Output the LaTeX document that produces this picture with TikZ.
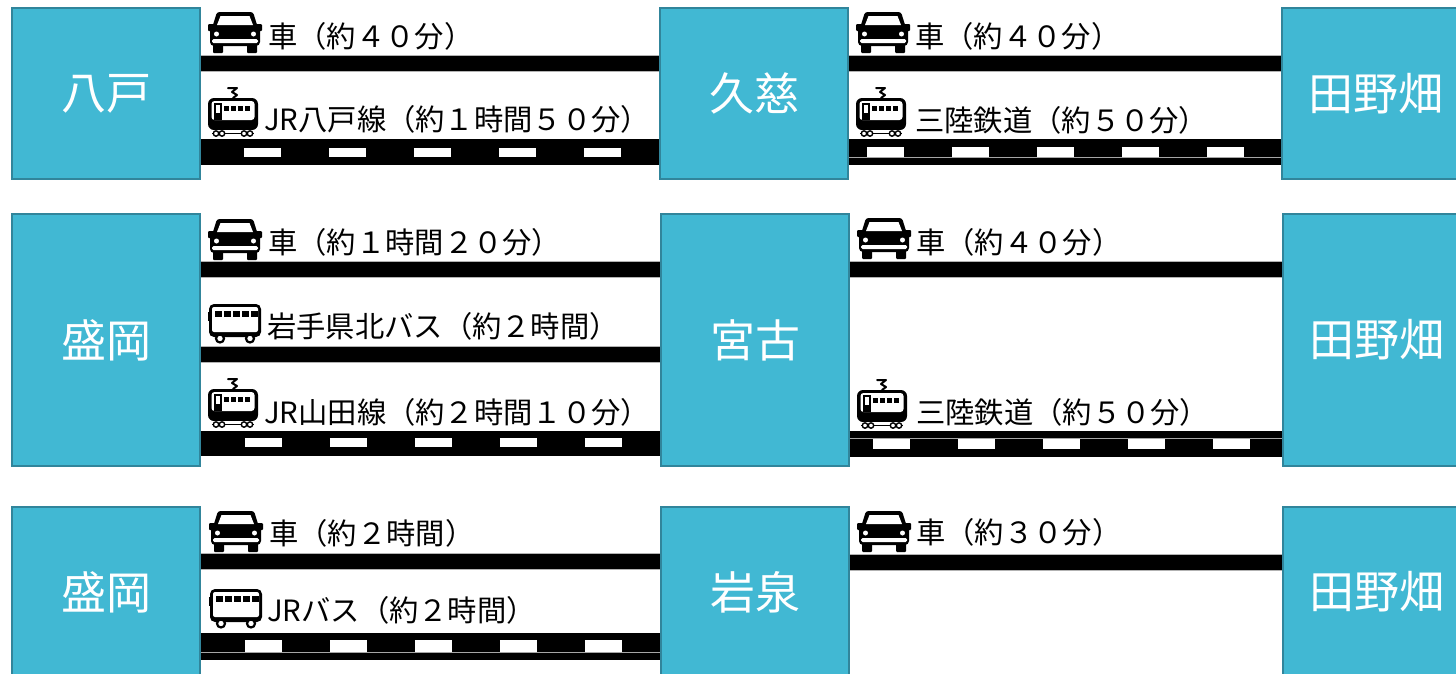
\documentclass[tikz,border=0pt]{standalone}
\usepackage{fontspec}
\setmainfont{Noto Sans CJK JP}
\definecolor{boxfill}{RGB}{65,184,211}
\definecolor{boxline}{RGB}{49,133,155}
\tikzset{
  car/.pic={
    \fill[rounded corners=2.5pt] (9,0) -- (45,0) -- (50,16) -- (4,16) -- cycle;
    \fill[white] (12.5,4) -- (41.5,4) -- (45,13) -- (9,13) -- cycle;
    \fill[rounded corners=1pt] (0,12) rectangle (6,19);
    \fill[rounded corners=1pt] (48,12) rectangle (54,19);
    \fill[rounded corners=4pt] (2,15) rectangle (52,34);
    \fill[white] (8.5,22) circle (2.5);
    \fill[white] (45.5,22) circle (2.5);
    \fill[white, rounded corners=1.5pt] (4,27) rectangle (50,31);
    \fill[rounded corners=1pt] (5,32) rectangle (15,41);
    \fill[rounded corners=1pt] (39,32) rectangle (49,41);
  },
  tram/.pic={
    \draw[line width=2pt, line cap=round, line join=round] (20,1) -- (29,1) -- (24,5) -- (29,8) -- (25,11);
    \fill[rounded corners=6pt] (0,11) rectangle (50,43);
    \fill[white, rounded corners=3pt] (3.5,14) rectangle (46.5,33);
    \fill (5.5,16) rectangle (14,33);
    \fill[white] (7.5,18) rectangle (12,26);
    \foreach \wx in {16,23,30,37} {\fill (\wx,18.5) rectangle ++(5,5.5);}
    \fill[white] (2,43) rectangle (48,50);
    \draw[line width=1.4pt] (4,46.5) -- (46,46.5);
    \foreach \cx in {8,14,36,42} {\filldraw[fill=white, line width=1.4pt] (\cx,46.5) circle (2.7);}
  },
  bus/.pic={
    \fill[rounded corners=5pt] (1,0) rectangle (53,33);
    \fill[white, rounded corners=2pt] (4,3) rectangle (50,28);
    \foreach \wx in {7,16,25,34,43} {\fill (\wx,7) rectangle ++(6.5,6);}
    \fill (0,8) rectangle (2,17);
    \foreach \cx in {12,42} {\filldraw[fill=white, line width=2.2pt] (\cx,34.5) circle (4);}
  }
}
\begin{document}
\begin{tikzpicture}[x=1pt,y=-1pt,
  station/.style={draw=boxline, line width=1.5pt, fill=boxfill, text=white,
    font=\fontsize{45}{45}\selectfont, minimum width=188pt, inner sep=0pt},
  lbl/.style={anchor=base west, inner sep=0pt, font=\fontsize{29.3}{29.3}\selectfont},
  road/.style={line width=15pt, black, preaction={draw=gray!60, line width=17pt}},
  railbed/.style={black},
  ties/.style={white, line width=9.5pt, dash pattern=on 37pt off 48pt},
  seam/.style={gray!70, line width=0.8pt}
]
\useasboundingbox (0,0) rectangle (1456,673);
\clip (0,0) rectangle (1456,673);
\fill[white] (0,0) rectangle (1456,673);

% stations
\node[station, minimum height=171pt] (hachi) at (106,93.5) {八戸};
\node[station, minimum height=171pt] (kuji) at (754,93.5) {久慈};
\node[station, minimum height=171pt] (tanoA) at (1376,93.5) {田野畑};
\node[station, minimum height=252pt] (moriA) at (106,340) {盛岡};
\node[station, minimum height=252pt] (miyako) at (755,340) {宮古};
\node[station, minimum height=252pt] (tanoB) at (1377,340) {田野畑};
\node[station, minimum height=170pt] (moriB) at (106,592) {盛岡};
\node[station, minimum height=170pt] (iwa) at (755,592) {岩泉};
\node[station, minimum height=170pt] (tanoC) at (1377,592) {田野畑};

% row 1 left
\draw[road] (hachi.east |- 0,63) -- (kuji.west |- 0,63);
\draw[railbed, line width=26pt] (hachi.east |- 0,152) -- (kuji.west |- 0,152);
\draw[ties, dash phase=42pt] (hachi.east |- 0,152.5) -- (kuji.west |- 0,152.5);
% row 1 right
\draw[road] (kuji.east |- 0,63) -- (tanoA.west |- 0,63);
\draw[railbed, line width=26pt] (kuji.east |- 0,152) -- (tanoA.west |- 0,152);
\draw[ties, dash phase=67pt] (kuji.east |- 0,152) -- (tanoA.west |- 0,152);
\draw[seam] (kuji.east |- 0,157.5) -- (tanoA.west |- 0,157.5);
% row 2 left
\draw[road] (moriA.east |- 0,269) -- (miyako.west |- 0,269);
\draw[road] (moriA.east |- 0,354) -- (miyako.west |- 0,354);
\draw[railbed, line width=25pt] (moriA.east |- 0,443.5) -- (miyako.west |- 0,443.5);
\draw[ties, dash phase=41pt] (moriA.east |- 0,442.5) -- (miyako.west |- 0,442.5);
% row 2 right
\draw[road] (miyako.east |- 0,269.5) -- (tanoB.west |- 0,269.5);
\draw[railbed, line width=26pt] (miyako.east |- 0,444) -- (tanoB.west |- 0,444);
\draw[ties, dash phase=62pt, line width=10pt] (miyako.east |- 0,443.5) -- (tanoB.west |- 0,443.5);
\draw[seam] (miyako.east |- 0,438) -- (tanoB.west |- 0,438);
% row 3 left
\draw[road] (moriB.east |- 0,561) -- (iwa.west |- 0,561);
\draw[railbed, line width=27pt] (moriB.east |- 0,646.5) -- (iwa.west |- 0,646.5);
\draw[ties, dash phase=41pt, line width=12pt] (moriB.east |- 0,646) -- (iwa.west |- 0,646);
\draw[seam] (moriB.east |- 0,652.5) -- (iwa.west |- 0,652.5);
% row 3 right
\draw[road] (iwa.east |- 0,562) -- (tanoC.west |- 0,562);

% icons
\pic at (208,12) {car};
\pic at (208,87) {tram};
\pic at (856,12) {car};
\pic at (856,87) {tram};
\pic at (208,219) {car};
\pic at (208,304) {bus};
\pic at (208,378) {tram};
\pic at (857,218) {car};
\pic at (857,379) {tram};
\pic at (209,511) {car};
\pic at (209,589) {bus};
\pic at (857,511) {car};

% labels
\node[lbl] (t1) at (268,47) {車（約４０分）};
\node[lbl] (t2) at (264,130) {JR八戸線（約１時間５０分）};
\node[lbl] (t3) at (915,47) {車（約４０分）};
\node[lbl] (t4) at (915,131) {三陸鉄道（約５０分）};
\node[lbl] (t5) at (268,253) {車（約１時間２０分）};
\node[lbl] (t6) at (267,337) {岩手県北バス（約２時間）};
\node[lbl] (t7) at (264,423) {JR山田線（約２時間１０分）};
\node[lbl] (t8) at (916,253) {車（約４０分）};
\node[lbl] (t9) at (916,423) {三陸鉄道（約５０分）};
\node[lbl] (t10) at (269,544) {車（約２時間）};
\node[lbl] (t11) at (267,621) {JRバス（約２時間）};
\node[lbl] (t12) at (916,543) {車（約３０分）};
\end{tikzpicture}
\end{document}
